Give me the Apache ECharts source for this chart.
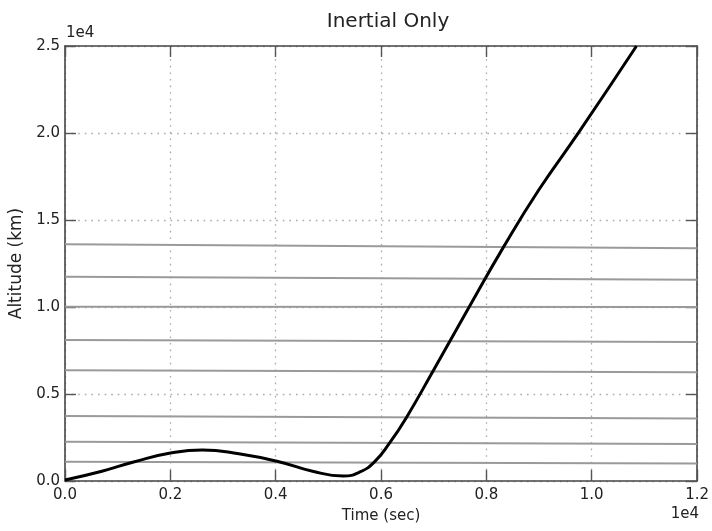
<!DOCTYPE html>
<html>
<head>
<meta charset="utf-8">
<title>Inertial Only</title>
<script src="https://cdn.jsdelivr.net/npm/echarts@6/dist/echarts.min.js"></script>
<style>
  html, body { margin: 0; padding: 0; background: #ffffff; }
  #chart { width: 712px; height: 531px; }
</style>
</head>
<body>
<div id="chart"></div>
<script>
// Trajectory altitude over time (seconds, km)
var trajTime = [0, 700, 1320, 1980, 2610, 3300, 4060, 4700, 5280, 5600, 5880, 6160, 6480, 6980, 7670, 8330, 9000, 9750, 10850];
var trajAlt  = [60, 560, 1110, 1590, 1780, 1560, 1110, 560, 290, 520, 1110, 2170, 3640, 6280, 9980, 13470, 16750, 20020, 25000];

// Reference altitude levels: value at t = 0 and at t = 12000
var levelStartAlt = [13600, 11740, 10020, 8100, 6360, 3740, 2260, 1110];
var levelEndAlt   = [13370, 11570, 10000, 7990, 6250, 3590, 2130, 1010];

// Axis ranges and ticks
var timeMin = 0, timeMax = 12000, timeStep = 2000;
var altMin = 0, altMax = 25000, altStep = 5000;
var axisScale = 10000;

var FONT = 'DejaVu Sans';
var chart = echarts.init(document.getElementById('chart'), null, { renderer: 'canvas' });

function tickFmt(v) { return (v / axisScale).toFixed(1); }

var frameLine = { show: true, onZero: false, lineStyle: { color: '#444', width: 1.6 } };
var innerTick = { show: true, inside: true, length: 11, lineStyle: { color: '#555', width: 1.4 } };
var dottedGrid = { show: true, lineStyle: { color: '#aaa', width: 1.3, type: [1.6, 5] } };

var series = [];
for (var i = 0; i < levelStartAlt.length; i++) {
  series.push({
    type: 'line',
    data: [[timeMin, levelStartAlt[i]], [timeMax, levelEndAlt[i]]],
    symbol: 'none',
    silent: true,
    z: 3,
    lineStyle: { color: '#9a9a9a', width: 2 }
  });
}
var traj = [];
for (var j = 0; j < trajTime.length; j++) traj.push([trajTime[j], trajAlt[j]]);
series.push({
  type: 'line',
  data: traj,
  symbol: 'none',
  smooth: 0.5,
  z: 5,
  clip: true,
  lineStyle: { color: '#000', width: 3 }
});

chart.setOption({
  animation: false,
  backgroundColor: '#ffffff',
  title: {
    text: 'Inertial Only',
    left: 383, top: 7, textAlign: 'center',
    textStyle: { fontFamily: FONT, fontSize: 20, fontWeight: 'normal', color: '#222' }
  },
  grid: { left: 65, right: 11, top: 46, bottom: 50, containLabel: false },
  xAxis: [{
    type: 'value', min: timeMin, max: timeMax, interval: timeStep,
    position: 'bottom',
    name: 'Time (sec)', nameLocation: 'middle', nameGap: 28,
    nameTextStyle: { fontFamily: FONT, fontSize: 15, color: '#222' },
    axisLine: frameLine, axisTick: innerTick, splitLine: dottedGrid,
    axisLabel: { formatter: tickFmt, fontFamily: FONT, fontSize: 15, color: '#222', margin: 7 }
  }, {
    type: 'value', min: timeMin, max: timeMax, interval: timeStep,
    position: 'top',
    axisLine: frameLine, axisTick: innerTick, splitLine: { show: false },
    axisLabel: { show: false }
  }],
  yAxis: [{
    type: 'value', min: altMin, max: altMax, interval: altStep,
    position: 'left',
    name: 'Altitude (km)', nameLocation: 'middle', nameGap: 35,
    nameTextStyle: { fontFamily: FONT, fontSize: 17, color: '#222' },
    axisLine: frameLine, axisTick: innerTick, splitLine: dottedGrid,
    axisLabel: { formatter: tickFmt, fontFamily: FONT, fontSize: 15, color: '#222', margin: 5 }
  }, {
    type: 'value', min: altMin, max: altMax, interval: altStep,
    position: 'right',
    axisLine: frameLine, axisTick: innerTick, splitLine: { show: false },
    axisLabel: { show: false }
  }],
  graphic: [{
    type: 'text', left: 66, top: 26,
    style: { text: '1e4', fontFamily: FONT, fontSize: 15, fill: '#222' }
  }, {
    type: 'text', right: 13, top: 507,
    style: { text: '1e4', fontFamily: FONT, fontSize: 15, fill: '#222' }
  }],
  series: series
});
</script>
</body>
</html>
